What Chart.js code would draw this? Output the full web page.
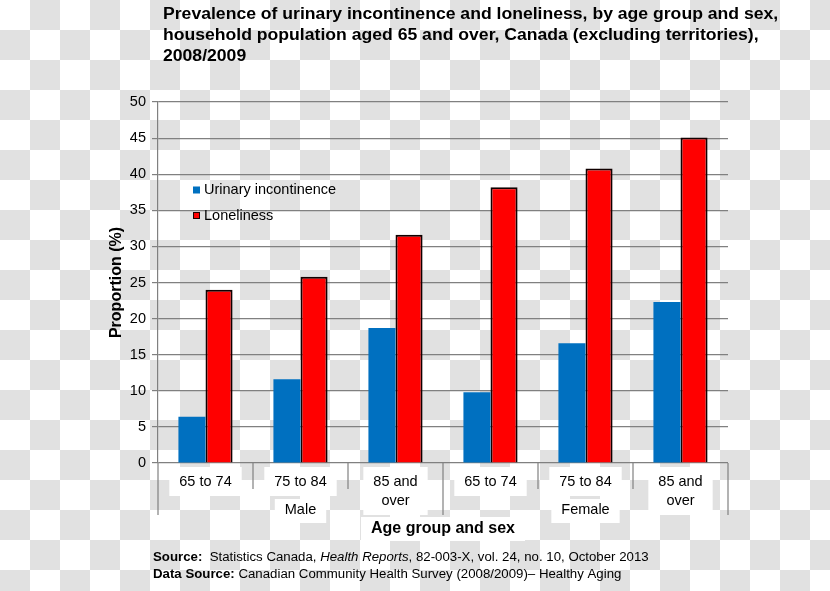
<!DOCTYPE html>
<html>
<head>
<meta charset="utf-8">
<script src="https://cdn.jsdelivr.net/npm/chart.js@4.4.1/dist/chart.umd.min.js"></script>
<style>
  html, body { margin: 0; padding: 0; }
  body {
    width: 830px;
    height: 591px;
    overflow: hidden;
    background: repeating-conic-gradient(#e1e1e1 0 25%, #ffffff 0 50%) 0 0 / 60px 60px;
  }
  #wrap { position: relative; width: 830px; height: 591px; }
</style>
</head>
<body>
<div id="wrap"><canvas id="chart"></canvas></div>
<script>
const titleLines = [
    "Prevalence of urinary incontinence and loneliness, by age group and sex,",
    "household population aged 65 and over, Canada (excluding territories),",
    "2008/2009",
];
const ageGroups = [["65 to 74"], ["75 to 84"], ["85 and", "over"], ["65 to 74"], ["75 to 84"], ["85 and", "over"]];
const sexGroups = ["Male", "Female"];
const seriesNames = ["Urinary incontinence", "Loneliness"];
const urinaryIncontinence = [6.4, 11.6, 18.7, 9.8, 16.6, 22.3];
const loneliness = [24.0, 25.8, 31.6, 38.2, 40.8, 45.1];
const yMin = 0;
const yMax = 50;
const yStep = 5;
const xTitle = "Age group and sex";
const yTitle = "Proportion (%)";
// source lines, as [text, font style] runs
const sourceLines = [
    [["Source:", "bold"], ["  Statistics Canada, ", ""], ["Health Reports", "italic"], [", 82-003-X, vol. 24, no. 10, October 2013", ""]],
    [["Data Source:", "bold"], [" Canadian Community Health Survey (2008/2009)\u2013 Healthy Aging", ""]],
];

const FONT = '"Liberation Sans", Arial, sans-serif';
const BLUE = "#0070c0";
const RED = "#ff0000";
const GRID = "#808080";

function font(style, size) {
    return `${style} ${size}px ${FONT}`.trim();
}

function drawRuns(ctx, x, y, runs, size) {
    runs.forEach(([text, style]) => {
        ctx.font = font(style, size);
        ctx.fillText(text, x, y);
        x += ctx.measureText(text).width;
    });
}

const decorations = {
    id: "decorations",
    beforeDraw(chart) {
        const { ctx, chartArea, scales: { x } } = chart;
        ctx.save();
        // white boxes behind the category labels
        ctx.fillStyle = "#fff";
        ctx.font = font("", 14.5);
        ageGroups.forEach((lines, i) => {
            const cx = x.getPixelForValue(i);
            const w = Math.max(...lines.map((l) => ctx.measureText(l).width)) + 20;
            const h = lines.length * 19 + 10;
            ctx.fillRect(cx - w / 2, chartArea.bottom + 4, w, h);
        });
        sexGroups.forEach((name, g) => {
            const cx = (x.getPixelForValue(g * 3) + x.getPixelForValue(g * 3 + 2)) / 2;
            const w = ctx.measureText(name).width + 20;
            ctx.fillRect(cx - w / 2, chartArea.bottom + 36, w, 24);
        });
        ctx.font = font("bold", 16);
        const aw = ctx.measureText(xTitle).width + 20;
        const acx = (chartArea.left + chartArea.right) / 2;
        ctx.fillRect(acx - aw / 2, chartArea.bottom + 54, aw, 24);
        ctx.restore();
    },
    afterDraw(chart) {
        const { ctx, chartArea, scales: { x } } = chart;
        ctx.save();

        // category dividers below the axis
        ctx.strokeStyle = GRID;
        ctx.lineWidth = 1.2;
        const n = ageGroups.length;
        for (let i = 0; i <= n; i++) {
            let bx;
            if (i === 0) bx = chartArea.left;
            else if (i === n) bx = chartArea.right;
            else bx = (x.getPixelForValue(i - 1) + x.getPixelForValue(i)) / 2;
            const long = i % 3 === 0;
            ctx.beginPath();
            ctx.moveTo(bx, chartArea.bottom);
            ctx.lineTo(bx, chartArea.bottom + (long ? 52 : 26));
            ctx.stroke();
        }

        ctx.fillStyle = "#000";
        ctx.textBaseline = "middle";

        // sex group labels
        ctx.textAlign = "center";
        ctx.font = font("", 14.5);
        sexGroups.forEach((name, g) => {
            const cx = (x.getPixelForValue(g * 3) + x.getPixelForValue(g * 3 + 2)) / 2;
            ctx.fillText(name, cx, chartArea.bottom + 47);
        });

        // axis titles
        ctx.font = font("bold", 16);
        ctx.fillText(xTitle, (chartArea.left + chartArea.right) / 2, chartArea.bottom + 66);
        ctx.save();
        ctx.translate(117, (chartArea.top + chartArea.bottom) / 2);
        ctx.rotate(-Math.PI / 2);
        ctx.fillText(yTitle, 0, 0);
        ctx.restore();

        // chart title, a little wider than the plain font
        ctx.textAlign = "left";
        ctx.save();
        ctx.translate(163, 0);
        ctx.scale(1.1, 1);
        ctx.font = font("bold", 16);
        titleLines.forEach((line, i) => ctx.fillText(line, 0, 15 + i * 21));
        ctx.restore();

        // source notes
        ctx.save();
        ctx.translate(153, 0);
        ctx.scale(1.06, 1);
        sourceLines.forEach((runs, i) => drawRuns(ctx, 0, 558 + i * 17, runs, 12.5));
        ctx.restore();

        // legend inside the plot
        const colors = [BLUE, RED];
        ctx.font = font("", 14.5);
        seriesNames.forEach((name, i) => {
            const ly = 190 + i * 25.5;
            ctx.fillStyle = colors[i];
            ctx.fillRect(193, ly - 3.5, 7, 7);
            if (i === 1) {
                ctx.strokeStyle = "#1a0000";
                ctx.lineWidth = 1;
                ctx.strokeRect(193.5, ly - 3, 6, 6);
            }
            ctx.fillStyle = "#000";
            ctx.fillText(name, 204, ly);
        });

        ctx.restore();
    },
};

new Chart(document.getElementById("chart"), {
    type: "bar",
    data: {
        labels: ageGroups,
        datasets: [
            {
                label: seriesNames[0],
                data: urinaryIncontinence,
                backgroundColor: BLUE,
                borderWidth: 0,
            },
            {
                label: seriesNames[1],
                data: loneliness,
                backgroundColor: RED,
                borderColor: "#100000",
                borderWidth: 2,
            },
        ],
    },
    options: {
        responsive: true,
        maintainAspectRatio: false,
        animation: false,
        devicePixelRatio: 1,
        layout: { padding: { top: 102, left: 0, right: 102, bottom: 0 } },
        datasets: { bar: { categoryPercentage: 0.57, barPercentage: 1.0 } },
        plugins: {
            legend: { display: false },
            tooltip: { enabled: false },
            title: { display: false },
        },
        scales: {
            x: {
                grid: { display: false, drawTicks: false },
                border: { display: false },
                ticks: {
                    color: "#000",
                    font: { family: FONT, size: 14.5, lineHeight: 1.3 },
                    padding: 10,
                    maxRotation: 0,
                    autoSkip: false,
                },
                afterFit: (s) => { s.height = 128; },
            },
            y: {
                min: yMin,
                max: yMax,
                ticks: {
                    stepSize: yStep,
                    color: "#000",
                    font: { family: FONT, size: 14.5 },
                    padding: 6,
                },
                grid: { color: GRID, lineWidth: 1.2, tickLength: 6 },
                border: { color: GRID, width: 1.2 },
                afterFit: (s) => { s.width = 158; },
            },
        },
    },
    plugins: [decorations],
});
</script>
</body>
</html>
